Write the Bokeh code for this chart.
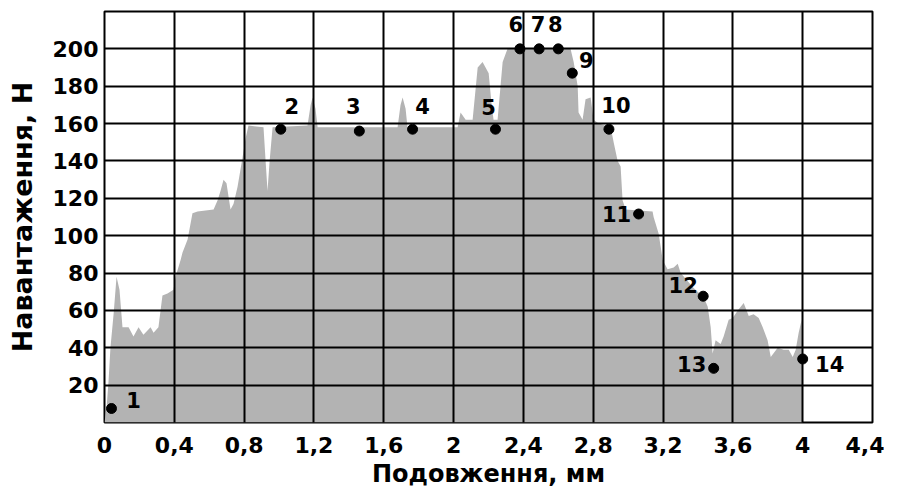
from bokeh.plotting import figure
from bokeh.models import ColumnDataSource, FixedTicker
from bokeh.core.properties import value
from bokeh.embed import file_html
from bokeh.resources import INLINE

# ---- data ----
profile_x = [0.0, 0.012, 0.023, 0.034, 0.052, 0.069, 0.086, 0.103, 0.138, 0.166, 0.195, 0.223,
             0.264, 0.281, 0.309, 0.332, 0.361, 0.395, 0.407, 0.436, 0.447, 0.476, 0.504,
             0.533, 0.625, 0.648, 0.665, 0.682, 0.699, 0.722, 0.739, 0.762, 0.791, 0.808,
             0.825, 0.911, 0.923, 0.934, 0.946, 0.963, 1.163, 1.181, 1.192, 1.209, 1.221,
             1.679, 1.696, 1.708, 1.725, 1.736, 2.023, 2.040, 2.069, 2.109, 2.138, 2.166,
             2.201, 2.218, 2.229, 2.252, 2.281, 2.309, 2.670, 2.688, 2.711, 2.716, 2.739,
             2.756, 2.785, 2.802, 2.831, 2.900, 2.917, 2.940, 2.957, 2.968, 2.986, 3.140,
             3.146, 3.175, 3.198, 3.226, 3.261, 3.284, 3.301, 3.375, 3.433, 3.456, 3.473,
             3.484, 3.501, 3.530, 3.547, 3.576, 3.599, 3.628, 3.662, 3.691, 3.719, 3.748,
             3.771, 3.799, 3.817, 3.857, 3.891, 3.920, 3.943, 3.960, 3.977, 3.994, 3.999]
profile_y = [0, 8, 22, 40, 58, 78, 71, 51, 51, 46, 51, 47,
             51, 48, 51, 68, 69, 71, 78, 87, 91, 98, 112,
             113, 114, 119, 124, 130, 128, 114, 117, 126, 142, 152,
             159, 158, 140, 124, 140, 158, 159, 170, 174, 168, 158,
             158, 170, 174, 168, 158, 158, 166, 162, 162, 190, 193,
             187, 170, 162, 162, 193, 200, 200, 193, 180, 166, 162,
             173, 174, 162, 160, 158, 150, 140, 137, 119, 114, 113,
             110, 101, 87, 82, 83, 85, 80, 72, 67, 62, 51,
             37, 44, 42, 46, 55, 56, 60, 64, 57, 58, 56,
             51, 44, 35, 40, 39, 39, 35, 39, 48, 55, 0]

point_labels = ["1", "2", "3", "4", "5", "6", "7", "8", "9", "10", "11", "12", "13", "14"]
point_x = [0.04, 1.01, 1.46, 1.765, 2.24, 2.38, 2.49, 2.60, 2.68, 2.89, 3.06, 3.43, 3.49, 4.0]
point_y = [7.5, 157, 156, 157, 157, 200, 200, 200, 187, 157, 111.6, 67.6, 29, 34]

x_ticks = [0, 0.4, 0.8, 1.2, 1.6, 2.0, 2.4, 2.8, 3.2, 3.6, 4.0, 4.4]
x_tick_labels = ["0", "0,4", "0,8", "1,2", "1,6", "2", "2,4", "2,8", "3,2", "3,6", "4", "4,4"]
y_ticks = [20, 40, 60, 80, 100, 120, 140, 160, 180, 200]

x_title = "Подовження, мм"
y_title = "Навантаження, Н"

# ---- label placement (screen px offsets, style only) ----
label_dx = [22, 11, -6, 10, -7, -4, -1, -3, 14, 7, -22, -20, -22, 27]
label_dy = [-8, -23, -25, -23, -22, -25, -25, -25, -13, -24, 0, -11, -4, 5]

FONT = "DejaVu Sans"

p = figure(width=884, height=490, x_range=(0, 4.4), y_range=(0, 220),
           output_backend="svg", toolbar_location=None,
           min_border_left=104, min_border_right=12, min_border_top=11, min_border_bottom=68)
p.background_fill_color = "white"
p.border_fill_color = "white"
p.outline_line_color = "black"
p.outline_line_width = 2

p.varea(x=profile_x, y1=0, y2=profile_y, fill_color="#b3b3b3")

src = ColumnDataSource(dict(x=point_x, y=point_y, t=point_labels, dx=label_dx, dy=label_dy))
p.scatter(x="x", y="y", source=src, size=10, color="black")
p.text(x="x", y="y", text="t", source=src, x_offset="dx", y_offset="dy",
       text_align="center", text_baseline="middle", text_font=value(FONT),
       text_font_style="bold", text_font_size="21px", text_color="black")

for ax in (p.xaxis[0], p.yaxis[0]):
    ax.axis_line_color = None
    ax.major_tick_line_color = None
    ax.minor_tick_line_color = None
    ax.major_tick_in = 0
    ax.major_tick_out = 0
    ax.major_label_text_font = FONT
    ax.major_label_text_font_style = "bold"
    ax.major_label_text_font_size = "22px"
    ax.major_label_text_color = "black"
    ax.axis_label_text_font = FONT
    ax.axis_label_text_font_style = "bold"
    ax.axis_label_text_color = "black"

p.xaxis.axis_label_text_font_size = "24px"
p.yaxis.axis_label_text_font_size = "27px"
p.xaxis.ticker = FixedTicker(ticks=x_ticks)
p.xaxis.major_label_overrides = {t: l for t, l in zip(x_ticks, x_tick_labels)}
p.yaxis.ticker = FixedTicker(ticks=y_ticks)
p.xaxis.axis_label = x_title
p.yaxis.axis_label = y_title
p.xaxis.major_label_standoff = 14
p.xaxis.axis_label_standoff = 4
p.yaxis.major_label_standoff = 6
p.yaxis.axis_label_standoff = 12

for g in (p.xgrid[0], p.ygrid[0]):
    g.grid_line_color = "black"
    g.grid_line_width = 2
    g.level = "overlay"

open("out.html", "w").write(file_html(p, INLINE))
